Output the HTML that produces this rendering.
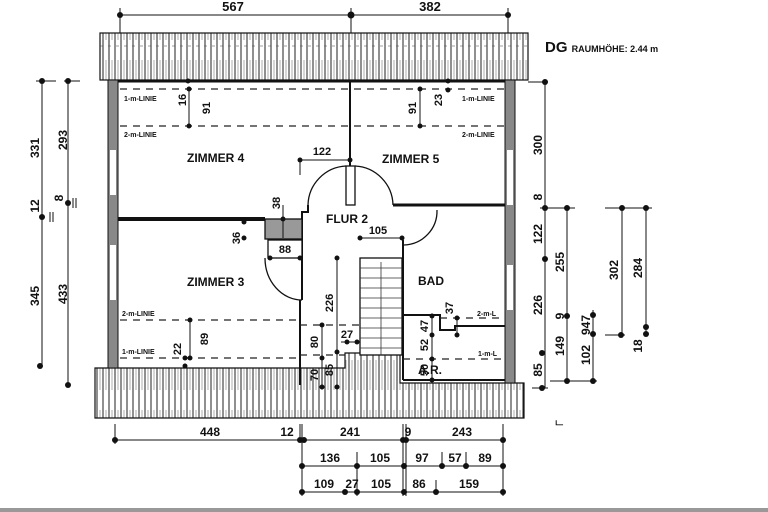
<!DOCTYPE html>
<html><head><meta charset="utf-8"><style>
html,body{margin:0;padding:0;background:#fff;width:768px;height:512px;overflow:hidden}
svg text{font-family:"Liberation Sans",sans-serif;font-weight:bold;fill:#111}
</style></head><body>
<svg width="768" height="512" viewBox="0 0 768 512" xmlns="http://www.w3.org/2000/svg">
<defs>
<pattern id="h" width="6" height="50" patternUnits="userSpaceOnUse">
<rect width="6" height="50" fill="#fff"/>
<line x1="1" y1="0" x2="1" y2="50" stroke="#222" stroke-width="1"/>
<line x1="4" y1="10" x2="4" y2="40" stroke="#777" stroke-width="0.6"/>
</pattern>
</defs>
<!-- top dims -->
<g stroke="#111" stroke-width="1">
<line x1="120" y1="15" x2="508" y2="15"/>
<line x1="120" y1="8" x2="120" y2="33"/><line x1="351" y1="8" x2="351" y2="33"/><line x1="508" y1="8" x2="508" y2="33"/>
</g>
<g fill="#111"><circle cx="120" cy="15" r="3"/><circle cx="351" cy="15" r="3.5"/><circle cx="508" cy="15" r="3"/></g>
<text x="233" y="11" font-size="13" text-anchor="middle">567</text>
<text x="430" y="11" font-size="13" text-anchor="middle">382</text>
<text x="545" y="52" font-size="15">DG <tspan font-size="9">RAUMHÖHE: 2.44 m</tspan></text>

<!-- roofs -->
<rect x="100" y="33" width="428" height="47" fill="url(#h)" stroke="#111" stroke-width="1.2"/>
<line x1="100" y1="46" x2="528" y2="46" stroke="#444" stroke-width="0.6" stroke-dasharray="3 5"/>
<path d="M95 368 H345 V353 H400 V383 H524 V418 H95 Z" fill="url(#h)" stroke="#111" stroke-width="1.2"/>

<!-- outer walls -->
<rect x="108" y="80" width="10" height="288" fill="#888" stroke="#111"/>
<rect x="110" y="150" width="6" height="45" fill="#fff"/><rect x="110" y="245" width="6" height="55" fill="#fff"/>
<rect x="505" y="80" width="10" height="303" fill="#888" stroke="#111"/>
<rect x="507" y="150" width="6" height="55" fill="#fff"/><rect x="507" y="265" width="6" height="45" fill="#fff"/>
<line x1="118" y1="81" x2="505" y2="81" stroke="#111" stroke-width="3"/>

<!-- interior walls -->
<g stroke="#111" stroke-width="2" fill="none">
<line x1="350" y1="82" x2="350" y2="205"/>
<rect x="346" y="166" width="9" height="39" fill="#fff" stroke-width="1.3"/>
<path d="M308 205 A40 40 0 0 1 346 166" stroke-width="1.3"/>
<path d="M355 166 A40 40 0 0 1 393 205" stroke-width="1.3"/>
<line x1="393" y1="205" x2="505" y2="205" stroke-width="3"/>
<line x1="118" y1="219" x2="265" y2="219" stroke-width="4"/>
<path d="M308 205 V212 H302 V300 M300 300 V385" stroke-width="2"/>
<rect x="265" y="219" width="37" height="20" fill="#999" stroke-width="1.3"/>
<rect x="268" y="240" width="34" height="18" fill="#fff" stroke-width="1.3"/>
<path d="M265 258 A37 42 0 0 0 302 300" stroke-width="1.3"/>
<path d="M404 245 A34 34 0 0 0 437 210" stroke-width="1.3"/>
<line x1="403" y1="240" x2="403" y2="380" stroke-width="2"/>
<path d="M403 315 H440 V330 H455 V326 H505" stroke-width="2"/>
<line x1="403" y1="380" x2="505" y2="380"/>
</g>
<!-- stair -->
<rect x="360" y="258" width="42" height="97" fill="#fff" stroke="#111" stroke-width="1.3"/>
<g stroke="#333" stroke-width="0.8">
<line x1="360" y1="268" x2="402" y2="268"/><line x1="360" y1="278" x2="402" y2="278"/><line x1="360" y1="288" x2="402" y2="288"/>
<line x1="360" y1="298" x2="402" y2="298"/><line x1="360" y1="308" x2="402" y2="308"/><line x1="360" y1="318" x2="402" y2="318"/>
<line x1="360" y1="328" x2="402" y2="328"/><line x1="360" y1="338" x2="402" y2="338"/><line x1="360" y1="348" x2="402" y2="348"/>
<line x1="381" y1="262" x2="381" y2="355"/>
</g>

<!-- dashed lines -->
<g stroke="#222" stroke-width="1.2" stroke-dasharray="7 6">
<line x1="120" y1="89" x2="505" y2="89"/><line x1="120" y1="126" x2="505" y2="126"/>
<line x1="120" y1="320" x2="300" y2="320"/><line x1="120" y1="358" x2="300" y2="358"/>
<line x1="300" y1="325" x2="360" y2="325"/><line x1="300" y1="355" x2="345" y2="355"/>
<line x1="440" y1="318" x2="505" y2="318"/><line x1="403" y1="359" x2="505" y2="359"/>
</g>
<g font-size="7">
<text x="124" y="101">1-m-LINIE</text><text x="124" y="137">2-m-LINIE</text>
<text x="462" y="101">1-m-LINIE</text><text x="462" y="137">2-m-LINIE</text>
<text x="122" y="316">2-m-LINIE</text><text x="122" y="354">1-m-LINIE</text>
<text x="477" y="316">2-m-L</text><text x="478" y="356">1-m-L</text>
</g>
<g font-size="12">
<text x="187" y="162">ZIMMER 4</text><text x="382" y="163">ZIMMER 5</text>
<text x="187" y="286">ZIMMER 3</text><text x="418" y="285">BAD</text>
<text x="326" y="223">FLUR 2</text><text x="418" y="374">A.R.</text>
</g>

<!-- inner dims -->
<g stroke="#111" stroke-width="1">
<line x1="189" y1="89" x2="189" y2="126"/><line x1="420" y1="89" x2="420" y2="126"/>
<line x1="190" y1="320" x2="190" y2="358"/>
<line x1="300" y1="160" x2="350" y2="160"/><line x1="300" y1="160" x2="300" y2="175"/>
<line x1="360" y1="238" x2="402" y2="238"/>
<line x1="270" y1="258" x2="300" y2="258"/>
<line x1="337" y1="258" x2="337" y2="352"/>
<line x1="322" y1="325" x2="322" y2="385"/><line x1="337" y1="352" x2="337" y2="385"/>
<line x1="341" y1="342" x2="357" y2="342"/>
<line x1="432" y1="316" x2="432" y2="380"/><line x1="457" y1="318" x2="457" y2="335"/>
<line x1="283" y1="205" x2="283" y2="238"/>
</g>
<g fill="#111">
<circle cx="189" cy="89" r="2.5"/><circle cx="189" cy="126" r="2.5"/><circle cx="188" cy="81" r="2.5"/>
<circle cx="420" cy="89" r="2.5"/><circle cx="420" cy="126" r="2.5"/><circle cx="448" cy="81" r="2.5"/><circle cx="448" cy="90" r="2.5"/>
<circle cx="190" cy="320" r="2.5"/><circle cx="190" cy="358" r="2.5"/><circle cx="185" cy="358" r="2.5"/><circle cx="185" cy="366" r="2.5"/>
<circle cx="300" cy="160" r="2.5"/><circle cx="350" cy="160" r="2.5"/>
<circle cx="360" cy="238" r="2.5"/><circle cx="402" cy="238" r="2.5"/>
<circle cx="270" cy="258" r="2.5"/><circle cx="300" cy="258" r="2.5"/>
<circle cx="244" cy="222" r="2.5"/><circle cx="244" cy="238" r="2.5"/>
<circle cx="283" cy="219" r="2.5"/>
<circle cx="337" cy="258" r="2.5"/><circle cx="337" cy="352" r="2.5"/><circle cx="322" cy="325" r="2.5"/><circle cx="322" cy="358" r="2.5"/>
<circle cx="322" cy="387" r="2.5"/><circle cx="337" cy="387" r="2.5"/><circle cx="347" cy="342" r="2.5"/><circle cx="357" cy="342" r="2.5"/>
<circle cx="432" cy="316" r="2.5"/><circle cx="432" cy="335" r="2.5"/><circle cx="432" cy="359" r="2.5"/><circle cx="432" cy="380" r="2.5"/>
<circle cx="457" cy="318" r="2.5"/><circle cx="457" cy="335" r="2.5"/>
</g>
<g font-size="11">
<text transform="translate(186,100) rotate(-90)" text-anchor="middle">16</text>
<text transform="translate(210,108) rotate(-90)" text-anchor="middle">91</text>
<text transform="translate(416,108) rotate(-90)" text-anchor="middle">91</text>
<text transform="translate(442,100) rotate(-90)" text-anchor="middle">23</text>
<text transform="translate(208,339) rotate(-90)" text-anchor="middle">89</text>
<text transform="translate(181,349) rotate(-90)" text-anchor="middle">22</text>
<text transform="translate(280,203) rotate(-90)" text-anchor="middle">38</text>
<text transform="translate(240,238) rotate(-90)" text-anchor="middle">36</text>
<text transform="translate(333,303) rotate(-90)" text-anchor="middle">226</text>
<text transform="translate(318,342) rotate(-90)" text-anchor="middle">80</text>
<text transform="translate(318,375) rotate(-90)" text-anchor="middle">70</text>
<text transform="translate(333,370) rotate(-90)" text-anchor="middle">85</text>
<text transform="translate(428,345) rotate(-90)" text-anchor="middle">52</text>
<text transform="translate(428,326) rotate(-90)" text-anchor="middle">47</text>
<text transform="translate(428,370) rotate(-90)" text-anchor="middle">50</text>
<text transform="translate(453,308) rotate(-90)" text-anchor="middle">37</text>
<text x="322" y="155" text-anchor="middle">122</text>
<text x="378" y="234" text-anchor="middle">105</text>
<text x="285" y="253" text-anchor="middle">88</text>
<text x="347" y="338" text-anchor="middle">27</text>
</g>

<!-- left dims -->
<g stroke="#111" stroke-width="1">
<line x1="42" y1="81" x2="42" y2="366"/><line x1="68" y1="81" x2="68" y2="385"/>
<line x1="36" y1="81" x2="56" y2="81"/><line x1="64" y1="81" x2="80" y2="81"/>
<line x1="50" y1="212" x2="50" y2="222"/><line x1="53" y1="212" x2="53" y2="222"/>
<line x1="73" y1="198" x2="73" y2="208"/><line x1="76" y1="198" x2="76" y2="208"/>
</g>
<g fill="#111"><circle cx="42" cy="81" r="3"/><circle cx="42" cy="217" r="3"/><circle cx="40" cy="366" r="3"/>
<circle cx="68" cy="81" r="3"/><circle cx="68" cy="203" r="3"/><circle cx="68" cy="385" r="3"/></g>
<g font-size="12">
<text transform="translate(39,148) rotate(-90)" text-anchor="middle">331</text>
<text transform="translate(67,140) rotate(-90)" text-anchor="middle">293</text>
<text transform="translate(39,206) rotate(-90)" text-anchor="middle">12</text>
<text transform="translate(63,198) rotate(-90)" text-anchor="middle">8</text>
<text transform="translate(39,296) rotate(-90)" text-anchor="middle">345</text>
<text transform="translate(67,294) rotate(-90)" text-anchor="middle">433</text>
</g>

<!-- right dims -->
<g stroke="#111" stroke-width="1">
<line x1="545" y1="82" x2="545" y2="388"/><line x1="567" y1="208" x2="567" y2="381"/>
<line x1="593" y1="310" x2="593" y2="381"/><line x1="622" y1="208" x2="622" y2="335"/><line x1="646" y1="208" x2="646" y2="333"/>
<line x1="528" y1="82" x2="548" y2="82"/><line x1="540" y1="208" x2="575" y2="208"/><line x1="605" y1="208" x2="652" y2="208"/>
<line x1="532" y1="388" x2="548" y2="388"/><line x1="550" y1="381" x2="597" y2="381"/><line x1="605" y1="335" x2="625" y2="335"/>
</g>
<g fill="#111"><circle cx="545" cy="82" r="3"/><circle cx="545" cy="208" r="3"/><circle cx="545" cy="259" r="3"/><circle cx="542" cy="353" r="3"/><circle cx="542" cy="388" r="3"/>
<circle cx="567" cy="208" r="3"/><circle cx="567" cy="316" r="3"/><circle cx="567" cy="381" r="3"/>
<circle cx="593" cy="315" r="3"/><circle cx="593" cy="334" r="3"/><circle cx="593" cy="381" r="3"/>
<circle cx="622" cy="208" r="3"/><circle cx="621" cy="335" r="3"/><circle cx="646" cy="208" r="3"/><circle cx="646" cy="327" r="3"/><circle cx="646" cy="334" r="3"/></g>
<g font-size="12">
<text transform="translate(542,145) rotate(-90)" text-anchor="middle">300</text>
<text transform="translate(542,197) rotate(-90)" text-anchor="middle">8</text>
<text transform="translate(542,234) rotate(-90)" text-anchor="middle">122</text>
<text transform="translate(542,305) rotate(-90)" text-anchor="middle">226</text>
<text transform="translate(542,370) rotate(-90)" text-anchor="middle">85</text>
<text transform="translate(564,262) rotate(-90)" text-anchor="middle">255</text>
<text transform="translate(564,316) rotate(-90)" text-anchor="middle">9</text>
<text transform="translate(564,346) rotate(-90)" text-anchor="middle">149</text>
<text transform="translate(590,355) rotate(-90)" text-anchor="middle">102</text>
<text transform="translate(590,325) rotate(-90)" text-anchor="middle">947</text>
<text transform="translate(618,270) rotate(-90)" text-anchor="middle">302</text>
<text transform="translate(642,268) rotate(-90)" text-anchor="middle">284</text>
<text transform="translate(642,346) rotate(-90)" text-anchor="middle">18</text>
</g>
<text x="555" y="425" font-size="10" fill="#666">ட</text>

<!-- bottom dims -->
<g stroke="#111" stroke-width="1">
<line x1="115" y1="440" x2="503" y2="440"/><line x1="302" y1="466" x2="503" y2="466"/><line x1="302" y1="492" x2="503" y2="492"/>
<line x1="115" y1="424" x2="115" y2="444"/><line x1="503" y1="424" x2="503" y2="496"/>
<line x1="302" y1="424" x2="302" y2="496"/><line x1="300" y1="424" x2="300" y2="442"/>
<line x1="403" y1="424" x2="403" y2="496"/><line x1="406" y1="424" x2="406" y2="496"/>
<line x1="357" y1="452" x2="357" y2="496"/><line x1="442" y1="452" x2="442" y2="468"/><line x1="466" y1="452" x2="466" y2="468"/><line x1="436" y1="480" x2="436" y2="494"/>
</g>
<g fill="#111"><circle cx="115" cy="440" r="3"/><circle cx="300" cy="440" r="3"/><circle cx="304" cy="440" r="3"/><circle cx="403" cy="440" r="3"/><circle cx="406" cy="440" r="3"/><circle cx="503" cy="440" r="3"/>
<circle cx="302" cy="466" r="3"/><circle cx="357" cy="466" r="3"/><circle cx="404" cy="466" r="3"/><circle cx="442" cy="466" r="3"/><circle cx="466" cy="466" r="3"/><circle cx="503" cy="466" r="3"/>
<circle cx="302" cy="492" r="3"/><circle cx="345" cy="492" r="3"/><circle cx="357" cy="492" r="3"/><circle cx="404" cy="492" r="3"/><circle cx="436" cy="492" r="3"/><circle cx="503" cy="492" r="3"/></g>
<g font-size="12" text-anchor="middle">
<text x="210" y="436">448</text><text x="287" y="436">12</text><text x="350" y="436">241</text><text x="408" y="436">9</text><text x="462" y="436">243</text>
<text x="330" y="462">136</text><text x="380" y="462">105</text><text x="422" y="462">97</text><text x="455" y="462">57</text><text x="485" y="462">89</text>
<text x="324" y="488">109</text><text x="352" y="488">27</text><text x="381" y="488">105</text><text x="419" y="488">86</text><text x="469" y="488">159</text>
</g>
<rect x="0" y="508" width="768" height="4" fill="#999"/>
</svg>
</body></html>
